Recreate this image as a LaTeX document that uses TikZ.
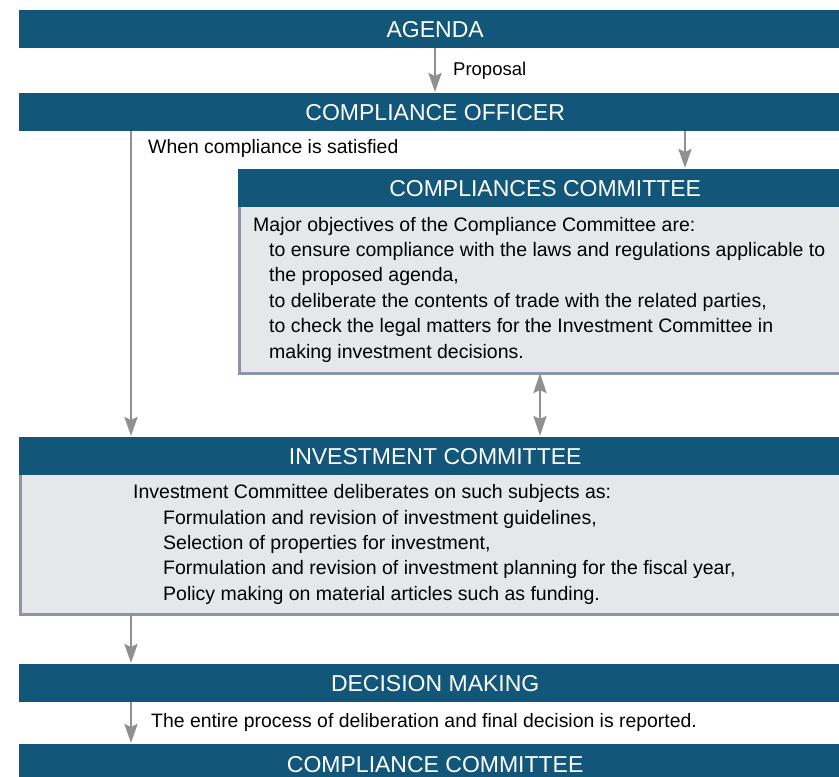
\documentclass[tikz,border=0pt]{standalone}
\usepackage{fontspec}
\setmainfont{Liberation Sans}
\usetikzlibrary{arrows.meta}
\definecolor{barblue}{HTML}{12577A}
\definecolor{boxfill}{HTML}{E6E7E9}
\definecolor{boxedge}{HTML}{8A95A8}
\definecolor{flowgray}{HTML}{909090}
\begin{document}
\begin{tikzpicture}[x=1pt,y=-1pt,
  headbar/.style={fill=barblue, text=white, anchor=north west, inner sep=0pt,
    minimum width=832pt, minimum height=38pt,
    font=\fontsize{23}{27}\selectfont},
  panel/.style={fill=boxfill, draw=boxedge, line width=2.5pt, anchor=north west,
    inner sep=0pt, minimum width=840pt},
  body/.style={anchor=west, inner sep=0pt, align=left,
    font=\fontsize{19.5}{25.4}\selectfont},
  note/.style={anchor=west, inner sep=0pt, font=\fontsize{19.4}{22}\selectfont},
  tip/.style={Stealth[length=19pt,width=13pt,inset=3pt,fill=flowgray]},
  flow/.style={draw=flowgray, line width=2.6pt, -{Stealth[length=19pt,width=13pt,inset=3pt,fill=flowgray]}},
  flowboth/.style={draw=flowgray, line width=2.6pt,
    {Stealth[length=20pt,width=13pt,inset=3pt,fill=flowgray]}-{Stealth[length=20pt,width=13pt,inset=3pt,fill=flowgray]}}]
\useasboundingbox (0,0) rectangle (839,777);
\clip (0,0) rectangle (839,777);
\fill[white] (0,0) rectangle (839,777);

% top of the flow
\node[headbar] (agenda) at (19,10) {AGENDA};
\node[headbar] (officer) at (19,93) {COMPLIANCE OFFICER};

% compliance committee panel
\node[panel, minimum height=203pt] (ccpanel) at (238,169) {};
\node[headbar, minimum width=614pt] (cchead) at (238,169) {COMPLIANCES COMMITTEE};
\node[body] (cctext) at (253,289.5) {Major objectives of the Compliance Committee are:\\
\hspace*{16pt}to ensure compliance with the laws and regulations applicable to\\
\hspace*{16pt}the proposed agenda,\\
\hspace*{16pt}to deliberate the contents of trade with the related parties,\\
\hspace*{16pt}to check the legal matters for the Investment Committee in\\
\hspace*{16pt}making investment decisions.};

% investment committee panel
\node[panel, minimum height=176pt, minimum width=860pt] (icpanel) at (19,437) {};
\node[headbar] (ichead) at (19,437) {INVESTMENT COMMITTEE};
\node[body] (ictext) at (133,544.5) {Investment Committee deliberates on such subjects as:\\
\hspace*{30pt}Formulation and revision of investment guidelines,\\
\hspace*{30pt}Selection of properties for investment,\\
\hspace*{30pt}Formulation and revision of investment planning for the fiscal year,\\
\hspace*{30pt}Policy making on material articles such as funding.};

% bottom of the flow
\node[headbar] (decision) at (19,664) {DECISION MAKING};
\node[headbar, minimum height=41pt] (report) at (19,744) {COMPLIANCE COMMITTEE};

% free ends of the connectors
\coordinate (a1) at (435,48);
\coordinate (a2) at (435,92);
\coordinate (b1) at (131,131);
\coordinate (b2) at (131,436);
\coordinate (c1) at (685,131);
\coordinate (c2) at (685,168);
\coordinate (d1) at (540,373);
\coordinate (d2) at (540,436);
\coordinate (e1) at (131,613);
\coordinate (e2) at (131,663);
\coordinate (f1) at (131,702);
\coordinate (f2) at (131,743);

\draw[flow] (a1) -- (a2);
\draw[flow] (b1) -- (b2);
\draw[flow] (c1) -- (c2);
\draw[flowboth] (d1) -- (d2);
\draw[flow] (e1) -- (e2);
\draw[flow] (f1) -- (f2);

% connector labels
\node[note, font=\fontsize{18.5}{22}\selectfont] (proposal) at (453,71) {Proposal};
\node[note] (satisfied) at (148,148) {When compliance is satisfied};
\node[note] (reported) at (151,722) {The entire process of deliberation and final decision is reported.};
\end{tikzpicture}
\end{document}
